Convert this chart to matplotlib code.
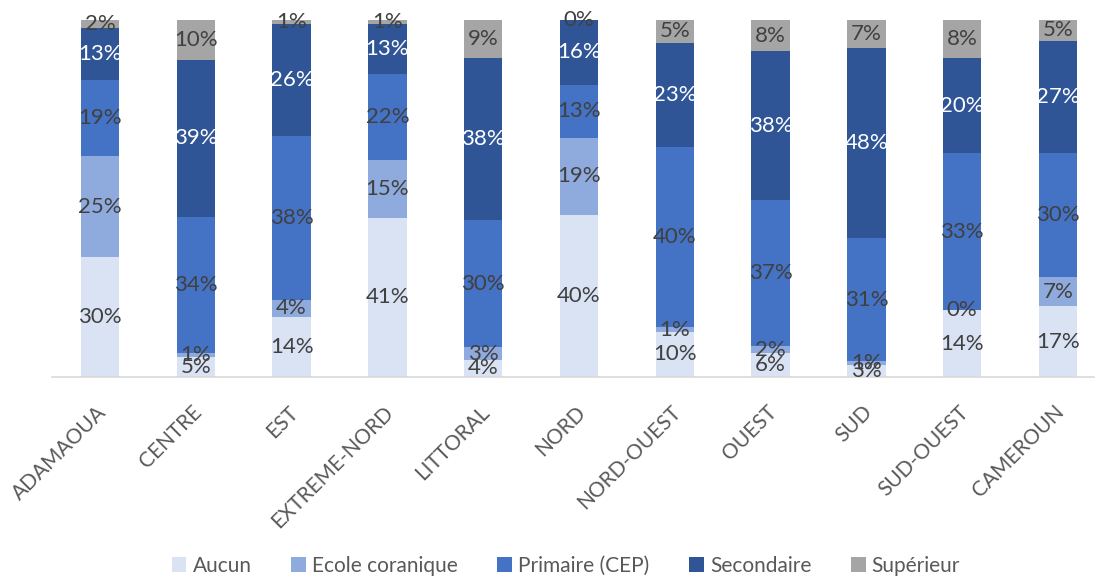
import matplotlib
matplotlib.use("Agg")
import matplotlib.pyplot as plt
import matplotlib.transforms as mtransforms
import numpy as np

plt.rcParams['font.family'] = ['Lato', 'DejaVu Sans']

regions = ["ADAMAOUA", "CENTRE", "EST", "EXTREME-NORD", "LITTORAL", "NORD",
           "NORD-OUEST", "OUEST", "SUD", "SUD-OUEST", "CAMEROUN"]
series_names = ["Aucun", "Ecole coranique", "Primaire (CEP)", "Secondaire", "Supérieur"]
aucun      = [30, 5, 14, 41, 4, 40, 10, 6, 3, 14, 17]
coranique  = [25, 1, 4, 15, 3, 19, 1, 2, 1, 0, 7]
primaire   = [19, 34, 38, 22, 30, 13, 40, 37, 31, 33, 30]
secondaire = [13, 39, 26, 13, 38, 16, 23, 38, 48, 20, 27]
superieur  = [2, 10, 1, 1, 9, 0, 5, 8, 7, 8, 5]

colors = ["#DAE3F3", "#8FAADC", "#4472C4", "#2F5597", "#A5A5A5"]
label_colors = ["#404040", "#404040", "#404040", "#FFFFFF", "#404040"]

data = np.array([aucun, coranique, primaire, secondaire, superieur], dtype=float)
totals = data.sum(axis=0)
shares = data / totals * 100

fig = plt.figure(figsize=(10.96, 5.78), dpi=100)
ax = fig.add_axes([0.0, 1 - 377 / 578, 1.0, (377 - 20) / 578])

x = np.arange(len(regions))
bottom = np.zeros(len(regions))
for i, name in enumerate(series_names):
    ax.bar(x, shares[i], 0.4, bottom=bottom, color=colors[i], label=name,
           edgecolor="none", zorder=2)
    for j in range(len(regions)):
        cy = bottom[j] + shares[i][j] / 2
        ax.text(x[j], cy, f"{int(data[i][j])}%", ha="center", va="center",
                fontsize=16, color=label_colors[i], zorder=3)
    bottom += shares[i]

px_per_unit = 95.8
left_px = 100 / px_per_unit
ax.set_xlim(-left_px, -left_px + 1096 / px_per_unit)
ax.set_ylim(0, 100)

for s in ["top", "right", "left"]:
    ax.spines[s].set_visible(False)
ax.spines["bottom"].set_color("#D9D9D9")
ax.spines["bottom"].set_linewidth(1.2)
ax.spines["bottom"].set_bounds(-left_px + 52 / px_per_unit, -left_px + 1094 / px_per_unit)
ax.set_yticks([])
ax.set_xticks(x)
ax.set_xticklabels(regions, rotation=45, ha="right", va="top", rotation_mode="anchor",
                   fontsize=15, color="#595959")
ax.tick_params(axis="x", length=0, pad=18)
shift = mtransforms.ScaledTranslation(-4 / 100, 0, fig.dpi_scale_trans)
for lbl in ax.get_xticklabels():
    lbl.set_transform(lbl.get_transform() + shift)

fig.legend(loc="center", bbox_to_anchor=(566 / 1096, 1 - 566 / 578), ncol=5,
           frameon=False, fontsize=15, handlelength=0.7, handleheight=0.7,
           handletextpad=0.3, columnspacing=1.9, labelcolor="#595959")

fig.savefig("out.png", dpi=100)
